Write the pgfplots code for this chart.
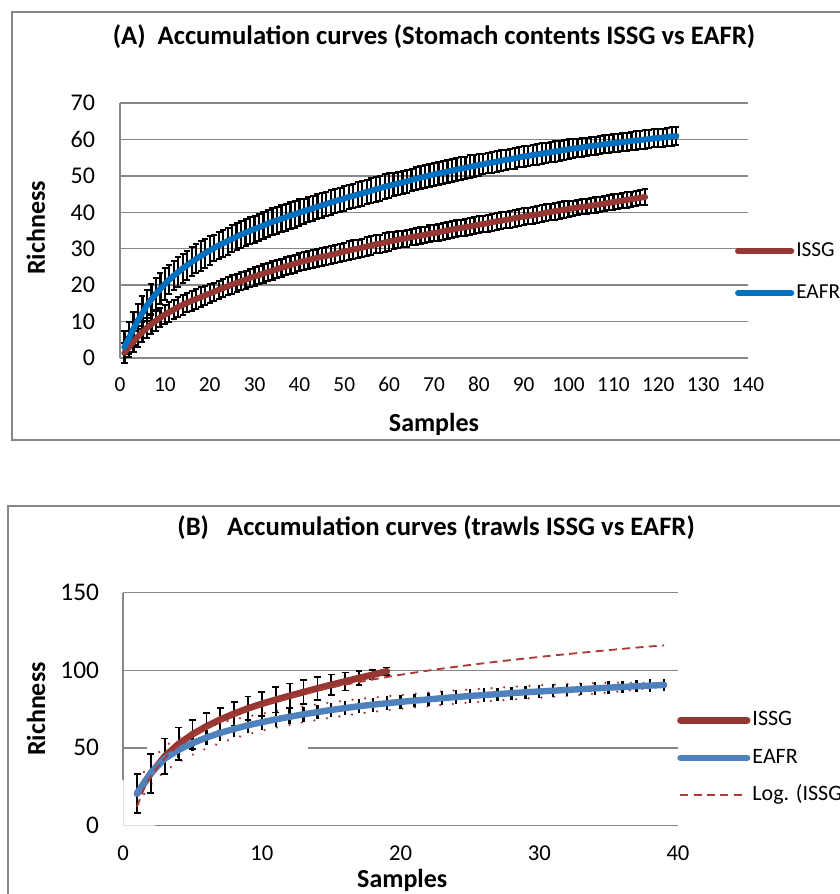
\documentclass[border=0pt]{standalone}
\usepackage{fontspec}
\setmainfont{Carlito}
\usepackage{pgfplots}
\usepackage{pgfplotstable}
\pgfplotsset{compat=1.18}
\definecolor{issg}{RGB}{150,55,52}
\definecolor{eafrA}{RGB}{0,112,192}
\definecolor{eafrB}{RGB}{79,129,189}
\definecolor{gridc}{RGB}{134,134,134}
\definecolor{trend}{RGB}{170,60,55}

\pgfplotstableread{
s y e
1 1.4 2.8
2 3.0 2.8
3 4.5 2.8
4 5.9 2.8
5 7.1 2.8
6 8.3 2.7
7 9.3 2.7
8 10.2 2.7
9 11.1 2.7
10 11.9 2.7
11 12.6 2.7
12 13.3 2.7
13 14.0 2.7
14 14.6 2.7
15 15.2 2.7
16 15.7 2.7
17 16.2 2.7
18 16.7 2.7
19 17.2 2.7
20 17.7 2.7
21 18.2 2.5
22 18.7 2.5
23 19.2 2.5
24 19.7 2.5
25 20.2 2.5
26 20.6 2.5
27 21.1 2.5
28 21.5 2.5
29 22.0 2.5
30 22.4 2.5
31 22.8 2.5
32 23.2 2.5
33 23.6 2.5
34 24.0 2.5
35 24.4 2.5
36 24.8 2.5
37 25.2 2.5
38 25.5 2.5
39 25.9 2.5
40 26.3 2.5
41 26.6 2.5
42 26.9 2.5
43 27.2 2.5
44 27.5 2.5
45 27.8 2.5
46 28.0 2.5
47 28.3 2.5
48 28.6 2.5
49 28.9 2.5
50 29.2 2.5
51 29.5 2.5
52 29.8 2.5
53 30.0 2.5
54 30.3 2.5
55 30.6 2.5
56 30.9 2.5
57 31.2 2.5
58 31.4 2.5
59 31.7 2.5
60 32.0 2.5
61 32.2 2.3
62 32.5 2.3
63 32.7 2.3
64 32.9 2.3
65 33.2 2.3
66 33.4 2.3
67 33.6 2.3
68 33.8 2.3
69 34.1 2.3
70 34.3 2.3
71 34.5 2.3
72 34.8 2.3
73 35.0 2.3
74 35.2 2.3
75 35.5 2.3
76 35.7 2.3
77 35.9 2.3
78 36.1 2.3
79 36.4 2.3
80 36.6 2.3
81 36.8 2.3
82 37.0 2.3
83 37.3 2.3
84 37.5 2.3
85 37.7 2.3
86 37.9 2.3
87 38.1 2.3
88 38.4 2.3
89 38.6 2.3
90 38.8 2.3
91 39.0 2.3
92 39.2 2.3
93 39.4 2.3
94 39.6 2.3
95 39.9 2.3
96 40.1 2.3
97 40.3 2.3
98 40.5 2.3
99 40.7 2.3
100 40.9 2.3
101 41.1 2.1
102 41.3 2.1
103 41.5 2.1
104 41.6 2.1
105 41.8 2.1
106 42.0 2.1
107 42.2 2.1
108 42.4 2.1
109 42.6 2.1
110 42.8 2.1
111 43.0 2.1
112 43.2 2.1
113 43.4 2.1
114 43.6 2.1
115 43.8 2.1
116 44.0 2.1
117 44.2 2.1
}\issgA

\pgfplotstableread{
s y e
1 3.0 4.5
2 5.5 4.5
3 8.0 4.5
4 10.3 4.5
5 12.4 4.5
6 14.4 4.3
7 16.1 4.3
8 17.6 4.3
9 19.0 4.3
10 20.3 4.3
11 21.5 4.0
12 22.6 4.0
13 23.6 4.0
14 24.6 4.0
15 25.5 4.0
16 26.4 4.0
17 27.2 4.0
18 28.0 4.0
19 28.8 4.0
20 29.5 4.0
21 30.2 3.7
22 30.9 3.7
23 31.5 3.7
24 32.1 3.7
25 32.7 3.7
26 33.3 3.7
27 33.9 3.7
28 34.4 3.7
29 34.9 3.7
30 35.4 3.7
31 35.9 3.7
32 36.4 3.7
33 36.9 3.7
34 37.4 3.7
35 37.8 3.7
36 38.2 3.7
37 38.7 3.7
38 39.1 3.7
39 39.5 3.7
40 39.9 3.7
41 40.3 3.4
42 40.7 3.4
43 41.1 3.4
44 41.5 3.4
45 41.9 3.4
46 42.3 3.4
47 42.7 3.4
48 43.1 3.4
49 43.4 3.4
50 43.8 3.4
51 44.2 3.4
52 44.5 3.4
53 44.9 3.4
54 45.2 3.4
55 45.6 3.4
56 45.9 3.4
57 46.3 3.4
58 46.6 3.4
59 47.0 3.4
60 47.3 3.4
61 47.6 3.1
62 47.9 3.1
63 48.2 3.1
64 48.5 3.1
65 48.9 3.1
66 49.2 3.1
67 49.5 3.1
68 49.8 3.1
69 50.1 3.1
70 50.4 3.1
71 50.7 3.1
72 50.9 3.1
73 51.2 3.1
74 51.4 3.1
75 51.7 3.1
76 52.0 3.1
77 52.2 3.1
78 52.5 3.1
79 52.7 3.1
80 53.0 3.1
81 53.2 2.8
82 53.5 2.8
83 53.7 2.8
84 53.9 2.8
85 54.2 2.8
86 54.4 2.8
87 54.6 2.8
88 54.8 2.8
89 55.1 2.8
90 55.3 2.8
91 55.5 2.8
92 55.7 2.8
93 55.9 2.8
94 56.1 2.8
95 56.3 2.8
96 56.5 2.8
97 56.7 2.8
98 56.9 2.8
99 57.1 2.8
100 57.3 2.8
101 57.5 2.5
102 57.6 2.5
103 57.8 2.5
104 58.0 2.5
105 58.2 2.5
106 58.3 2.5
107 58.5 2.5
108 58.7 2.5
109 58.8 2.5
110 59.0 2.5
111 59.1 2.5
112 59.3 2.5
113 59.4 2.5
114 59.6 2.5
115 59.7 2.5
116 59.8 2.5
117 60.0 2.5
118 60.1 2.5
119 60.3 2.5
120 60.4 2.5
121 60.5 2.5
122 60.7 2.5
123 60.8 2.5
124 60.9 2.5
}\eafrA

\pgfplotstableread{
s y e
1 20.5 12.5
2 33.5 12.5
3 44.5 11.5
4 52.5 10.5
5 58.7 9.4
6 63.8 8.4
7 68.2 7.6
8 72.0 7.6
9 75.4 7.6
10 78.4 7.7
11 81.0 8.2
12 83.5 8.0
13 85.9 7.7
14 88.3 7.4
15 90.6 6.7
16 92.8 5.8
17 95.0 4.5
18 97.1 3.0
19 99.3 2.5
}\issgB

\pgfplotstableread{
s y e lo hi
1 20.5 5.0 13.5 27.5
2 34.0 5.0 26.5 41.5
3 43.0 5.0 35.0 51.0
4 48.7 5.0 40.7 56.7
5 53.0 5.0 45.5 60.5
6 56.6 5.0 49.6 63.6
7 59.6 5.0 53.1 66.1
8 62.2 5.0 56.2 68.2
9 64.5 5.0 58.8 70.2
10 66.5 5.0 61.0 72.0
11 68.3 4.8 63.0 73.6
12 70.0 4.8 64.8 75.2
13 71.6 4.8 66.5 76.7
14 73.0 4.7 68.0 78.0
15 74.4 4.7 69.5 79.3
16 75.6 4.6 70.8 80.4
17 76.8 4.6 72.1 81.5
18 77.8 4.5 73.2 82.4
19 78.7 4.5 74.2 83.2
20 79.6 4.5 75.2 84.0
21 80.4 4.4 76.0 84.8
22 81.2 4.4 76.8 85.6
23 82.0 4.4 77.7 86.3
24 82.7 4.3 78.4 87.0
25 83.4 4.3 79.2 87.6
26 84.0 4.3 79.8 88.2
27 84.6 4.2 80.5 88.7
28 85.2 4.2 81.1 89.3
29 85.8 4.2 81.8 89.8
30 86.3 4.1 82.3 90.3
31 86.8 4.1 82.9 90.7
32 87.3 4.1 83.5 91.1
33 87.8 4.0 84.2 91.4
34 88.3 4.0 84.9 91.7
35 88.8 4.0 85.7 91.9
36 89.2 4.0 86.5 91.9
37 89.7 4.0 87.5 91.9
38 90.1 4.0 88.6 91.6
39 90.5 4.0 90.0 91.0
}\eafrB

\pgfplotstableread{
s y
1 12.0
1.5 23.5
2 31.7
3 43.2
4 51.4
5 57.7
6 62.9
8 71.0
10 77.4
12 82.6
14 86.9
16 90.7
19 95.6
22 99.8
25 103.4
28 106.6
31 109.5
34 112.1
37 114.6
39 116.0
}\logB

\pgfplotsset{
  common/.style={
    scale only axis, clip=false,
    axis line style={gridc, line width=1.1pt},
    tick style={draw=none},
    /pgf/number format/assume math mode=true,
    legend cell align=left,
  },
  geomA/.style={common,
    at={(90pt,-268.5pt)}, anchor=south west,
    width=471pt, height=191.25pt,
    xmin=0, xmax=140, ymin=0, ymax=70,
  },
  geomB/.style={common,
    at={(92.4pt,-619pt)}, anchor=south west,
    width=416.1pt, height=174.5pt,
    xmin=0, xmax=40, ymin=0, ymax=150,
  },
}

\begin{document}
\begin{tikzpicture}
\useasboundingbox (0pt,0pt) rectangle (630pt,-670.5pt);
% panel frames
\draw[gridc, line width=1.1pt] (645pt,-9pt) -- (9pt,-9pt) -- (9pt,-330pt) -- (645pt,-330pt);
\draw[gridc, line width=1.1pt] (645pt,-379.5pt) -- (6pt,-379.5pt) -- (6pt,-690pt);

% ---------------- Panel A: frame, grid, error bars ----------------
\begin{axis}[geomA,
  xtick={0,10,...,140}, ytick={0,10,...,70},
  axis lines*=left,
  ymajorgrids, grid style={gridc, line width=1.1pt},
  xticklabel style={font=\fontsize{16}{16}\selectfont, anchor=center, yshift=-20pt},
  yticklabel style={font=\fontsize{18}{18}\selectfont, anchor=east, inner sep=0pt, xshift=-18.5pt},
  title={(A)\ \ Accumulation curves (Stomach contents ISSG vs EAFR)},
  title style={at={(axis description cs:0.5,1.230)}, anchor=center, yshift=0pt, font=\bfseries\fontsize{20}{20}\selectfont},
  xlabel={Samples},
  xlabel style={at={(axis description cs:0.5,-0.259)}, anchor=center, font=\bfseries\fontsize{19.5}{19.5}\selectfont},
  ylabel={Richness},
  ylabel style={at={(axis description cs:-0.134,0.51)}, anchor=center, font=\bfseries\fontsize{19.5}{19.5}\selectfont},
]
\addplot[only marks, mark=none, black,
  error bars/.cd, y dir=both, y explicit,
  error bar style={black, line width=1.7pt},
  error mark options={rotate=90, black, mark size=2.3pt, line width=1.5pt}]
  table[x=s, y=y, y error=e] {\issgA};
\addplot[only marks, mark=none, black,
  error bars/.cd, y dir=both, y explicit,
  error bar style={black, line width=1.7pt},
  error mark options={rotate=90, black, mark size=2.3pt, line width=1.5pt}]
  table[x=s, y=y, y error=e] {\eafrA};
\end{axis}

% ---------------- Panel A: curves and legend ----------------
\begin{axis}[geomA, hide axis,
  legend style={at={(axis description cs:0.979,0.337)}, anchor=west, draw=none, fill=none,
    font=\fontsize{16}{16}\selectfont, row sep=14.5pt, inner sep=0pt,
    nodes={inner sep=1.5pt, text height=11pt, text depth=3pt}},
  legend image code/.code={\draw[#1, line cap=round] (0pt,0pt) -- (40pt,0pt);},
]
\addplot[issg, line width=4.4pt, line cap=round, line join=round, mark=none] table[x=s, y=y] {\issgA};
\addlegendentry{ISSG}
\addplot[eafrA, line width=4.4pt, line cap=round, line join=round, mark=none] table[x=s, y=y] {\eafrA};
\addlegendentry{EAFR}
\end{axis}

% ---------------- Panel B: frame, grid, bounds, error bars ----------------
\begin{axis}[geomB,
  xtick={0,10,...,40}, ytick={0,50,100,150},
  axis x line*=bottom, axis y line*=left,
  axis line style={draw=none},
  xticklabel style={font=\fontsize{17}{17}\selectfont, anchor=center, yshift=-20.6pt},
  yticklabel style={font=\fontsize{19}{19}\selectfont, anchor=east, inner sep=0pt, xshift=-18pt},
  title={(B)\ \ \ Accumulation curves (trawls ISSG vs EAFR)},
  title style={at={(axis description cs:0.564,1.247)}, anchor=center, yshift=0pt, font=\bfseries\fontsize{20}{20}\selectfont},
  xlabel={Samples},
  xlabel style={at={(axis description cs:0.503,-0.238)}, anchor=center, font=\bfseries\fontsize{19.5}{19.5}\selectfont},
  ylabel={Richness},
  ylabel style={at={(axis description cs:-0.157,0.5)}, anchor=center, font=\bfseries\fontsize{19.5}{19.5}\selectfont},
]
\draw[gridc, line width=1.1pt] (axis cs:0,150) -- (axis cs:40,150);
\draw[gridc, line width=1.1pt] (axis cs:0,100) -- (axis cs:40,100);
\draw[gridc, line width=1.1pt] (axis cs:0,50) -- (axis cs:1.7,50);
\draw[gridc, line width=1.1pt] (axis cs:13.3,50) -- (axis cs:40,50);
\draw[gridc, line width=1.1pt] (axis cs:2.3,0) -- (axis cs:40,0);
\draw[gridc, line width=1.1pt] (axis cs:0,150) -- (axis cs:0,29);
\draw[black!12, line width=0.8pt] (axis cs:0,29) -- (axis cs:0,0) -- (axis cs:2.3,0);
\addplot[trend, line width=1.9pt, line cap=round, dash pattern=on 0.01pt off 9.5pt, mark=none] table[x=s, y=hi] {\eafrB};
\addplot[trend, line width=1.9pt, line cap=round, dash pattern=on 0.01pt off 9.5pt, mark=none] table[x=s, y=lo] {\eafrB};
\addplot[only marks, mark=none, black,
  error bars/.cd, y dir=both, y explicit,
  error bar style={black, line width=1.3pt},
  error mark options={rotate=90, black, mark size=2.6pt, line width=1.3pt}]
  table[x=s, y=y, y error=e] {\issgB};
\addplot[only marks, mark=none, black,
  error bars/.cd, y dir=both, y explicit, error mark=none,
  error bar style={black, line width=1.8pt}]
  table[x=s, y=y, y error=e] {\eafrB};
\end{axis}

% ---------------- Panel B: curves, trend and legend ----------------
\begin{axis}[geomB, hide axis,
  legend style={at={(axis description cs:0.998,0.29)}, anchor=west, draw=none, fill=none,
    font=\fontsize{16.5}{16.5}\selectfont, row sep=11.1pt, inner sep=0pt,
    nodes={inner sep=1.5pt, text height=11pt, text depth=3pt}},
  legend image code/.code={\draw[#1] (0pt,0pt) -- (50pt,0pt);},
]
\addplot[issg, line width=5pt, line cap=round, line join=round, mark=none] table[x=s, y=y] {\issgB};
\addlegendentry{ISSG}
\addplot[eafrB, line width=4.8pt, line cap=round, line join=round, mark=none] table[x=s, y=y] {\eafrB};
\addlegendentry{EAFR}
\addplot[trend, line width=1.4pt, dash pattern=on 6pt off 4pt, smooth, mark=none] table[x=s, y=y] {\logB};
\addlegendentry{Log. (ISSG)}
\end{axis}
\end{tikzpicture}
\end{document}
